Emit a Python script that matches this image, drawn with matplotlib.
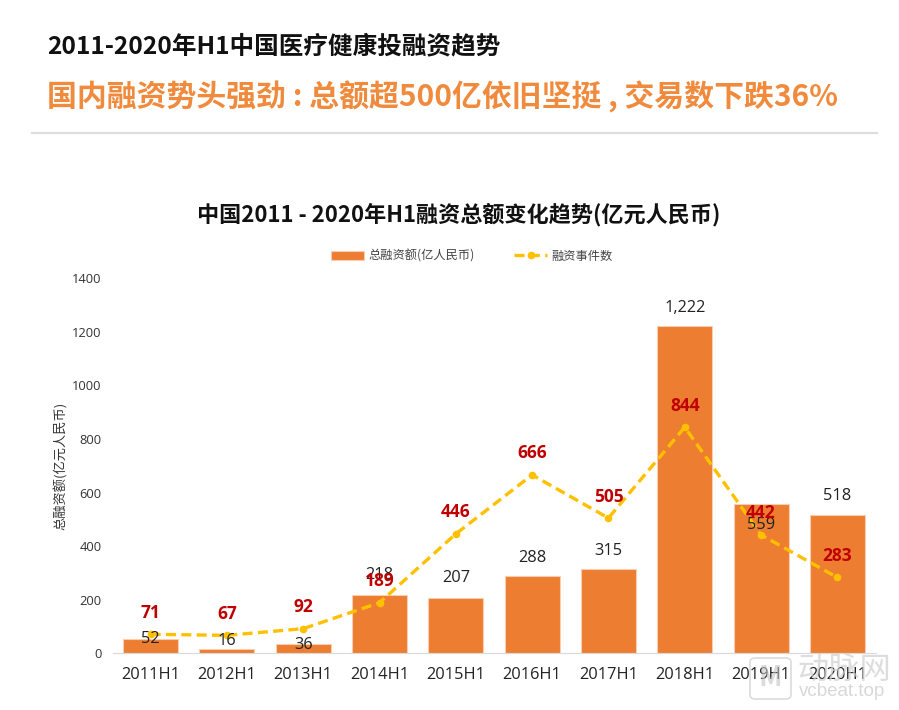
#!/usr/bin/env python3

import matplotlib
matplotlib.use("Agg")
import matplotlib.pyplot as plt
from matplotlib.patches import FancyBboxPatch

plt.rcParams["font.family"] = ["Noto Sans CJK SC", "DejaVu Sans"]

W, H = 899, 710

years = ["2011H1", "2012H1", "2013H1", "2014H1", "2015H1",
         "2016H1", "2017H1", "2018H1", "2019H1", "2020H1"]
amounts = [52, 16, 36, 218, 207, 288, 315, 1222, 559, 518]
amount_labels = ["52", "16", "36", "218", "207", "288", "315", "1,222", "559", "518"]
events = [71, 67, 92, 189, 446, 666, 505, 844, 442, 283]
yticks = [0, 200, 400, 600, 800, 1000, 1200, 1400]

# label offsets from the top of each bar, in points
bar_label_offset = [0, 6, -1, 14, 14, 13, 13, 13, -15.5, 13]

ORANGE = "#ED7D31"
YELLOW = "#FFC000"
RED = "#C00000"
NUM_FONT = ["Open Sans", "DejaVu Sans"]

fig = plt.figure(figsize=(W / 100, H / 100), dpi=100, facecolor="white")

# headers
fig.text(47 / W, 1 - 46 / H, "2011-2020年H1中国医疗健康投融资趋势", fontsize=17.7,
         fontweight="bold", color="#111111", va="center", ha="left")
fig.text(47 / W, 1 - 97 / H, "国内融资势头强劲 : 总额超500亿依旧坚挺 , 交易数下跌36%",
         fontsize=21.5, fontweight="bold", color="#F08A3C", va="center", ha="left")
fig.add_artist(plt.Line2D([32 / W, 877 / W], [1 - 133 / H, 1 - 133 / H],
                          color="#DDDDDD", lw=1.6))
fig.text(459 / W, 1 - 215 / H, "中国2011 - 2020年H1融资总额变化趋势(亿元人民币)", fontsize=15.9,
         fontweight="bold", color="#111111", va="center", ha="center")

ax = fig.add_axes([112.5 / W, 1 - 653.3 / H, 763 / W, 375 / H])
ax.set_xlim(-0.5, 9.5)
ax.set_ylim(0, 1400)

x = list(range(len(years)))
bars = ax.bar(x, amounts, width=0.72, color=ORANGE, edgecolor="#F8CDB0", linewidth=0.8,
              label="总融资额(亿人民币)", zorder=2)
line, = ax.plot(x, events, color=YELLOW, lw=2.4, ls=(0, (3, 1.6)), marker="o", ms=4.5,
                label="融资事件数", zorder=3)

for i in x:
    ax.annotate(amount_labels[i], (i, amounts[i]), xytext=(0, bar_label_offset[i]),
                textcoords="offset points", ha="center", va="center", fontsize=11.8,
                family=NUM_FONT, color="#222222", zorder=4)
    ax.annotate(str(events[i]), (i, events[i]), xytext=(0, 15.5),
                textcoords="offset points", ha="center", va="center", fontsize=12.5,
                fontweight="bold", family=NUM_FONT, color=RED, zorder=5)

ax.set_xticks(x)
ax.set_xticklabels(years, fontsize=11.8, family=NUM_FONT, color="#222222")
ax.set_yticks(yticks)
ax.set_yticklabels([str(v) for v in yticks], fontsize=9.3, family=NUM_FONT, color="#333333")
ax.tick_params(axis="both", length=0)
ax.tick_params(axis="x", pad=10)
ax.tick_params(axis="y", pad=8)
for s in ["top", "right", "left"]:
    ax.spines[s].set_visible(False)
ax.spines["bottom"].set_color("#D9D9D9")
ax.set_ylabel("总融资额(亿元人民币)", fontsize=9.5, color="#333333", labelpad=3)

fig.legend(handles=[bars, line], loc="center", bbox_to_anchor=(472 / W, 1 - 256 / H),
           ncol=2, frameon=False, fontsize=8.8, columnspacing=3.2, handlelength=2.7,
           handletextpad=0.35, labelcolor="#444444")

# watermark
logo = FancyBboxPatch((750 / W, 1 - 699 / H), 41 / W, 41 / H,
                      boxstyle="round,pad=0,rounding_size=0.006",
                      transform=fig.transFigure, fc="none", ec="#CCCCCC", lw=1.2, alpha=0.7, zorder=6)
fig.add_artist(logo)
fig.text(770 / W, 1 - 678 / H, "M", fontsize=20, fontweight="bold", color="#C4C4C4", alpha=0.6,
         ha="center", va="center")
fig.text(797 / W, 1 - 670 / H, "动脉网", fontsize=22.5, color="#CFCFCF", alpha=0.7,
         ha="left", va="center")
fig.text(799 / W, 1 - 692 / H, "vcbeat.top", fontsize=13.5, color="#CFCFCF", alpha=0.8,
         family=["Liberation Sans", "DejaVu Sans"], ha="left", va="center")

fig.savefig("out.png", dpi=100)
